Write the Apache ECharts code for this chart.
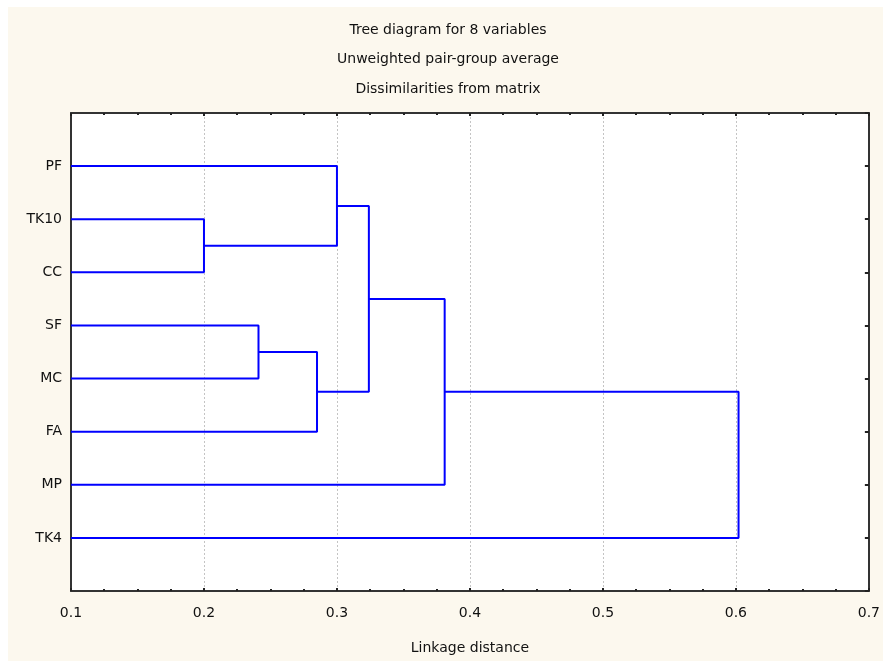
<!DOCTYPE html>
<html>
<head>
<meta charset="utf-8">
<style>html,body{margin:0;padding:0;background:#fff}#c{width:883px;height:661px}</style>
<script src="https://cdn.jsdelivr.net/npm/echarts@6/dist/echarts.min.js"></script>
</head>
<body>
<div id="c"></div>
<script>
// Leaves, top to bottom
const leaves = ['PF', 'TK10', 'CC', 'SF', 'MC', 'FA', 'MP', 'TK4'];
// Merge steps: [node A, node B, linkage distance]; leaves are 0..7, new clusters 8..14
const merges = [
  [1, 2, 0.200],
  [3, 4, 0.241],
  [9, 5, 0.285],
  [0, 8, 0.300],
  [11, 10, 0.324],
  [12, 6, 0.381],
  [13, 7, 0.602]
];
const titleLines = ['Tree diagram for 8 variables', 'Unweighted pair-group average', 'Dissimilarities from matrix'];
const xTicks = { min: 0.1, max: 0.7, step: 0.1 };
const xName = 'Linkage distance';

// Node positions derived from structure
const nodes = leaves.map((n, i) => ({ y: i + 1, h: xTicks.min }));
merges.forEach(m => {
  const a = nodes[m[0]], b = nodes[m[1]];
  nodes.push({ y: (a.y + b.y) / 2, h: m[2] });
});
const series = merges.map(m => {
  const a = nodes[m[0]], b = nodes[m[1]];
  return {
    type: 'line', symbol: 'none', silent: true, animation: false,
    lineStyle: { color: '#0000ff', width: 2 },
    data: [[a.h, a.y], [m[2], a.y], [m[2], b.y], [b.h, b.y]]
  };
});

const FONT = '"DejaVu Sans", Verdana, sans-serif';
const FS = 14;
const chart = echarts.init(document.getElementById('c'), null, { renderer: 'canvas' });
const axisLineStyle = { color: '#333', width: 2 };
const tickStyle = { color: '#222', width: 2 };
chart.setOption({
  backgroundColor: '#ffffff',
  animation: false,
  graphic: [
    { type: 'rect', z: -10, shape: { x: 8, y: 7, width: 875, height: 654 }, style: { fill: '#fcf8ee' } },
    ...titleLines.map((t, i) => ({
      type: 'text', x: 448, y: 30 + i * 29.5, z: 10,
      style: { text: t, font: FS + 'px ' + FONT, fill: '#111', align: 'center', verticalAlign: 'middle' }
    }))
  ],
  grid: { left: 71, right: 13, top: 113, bottom: 70, backgroundColor: '#fff', show: true, borderWidth: 0 },
  xAxis: [
    {
      type: 'value', min: xTicks.min, max: xTicks.max, interval: xTicks.step, position: 'bottom',
      name: xName, nameLocation: 'middle', nameGap: 50,
      nameTextStyle: { fontFamily: FONT, fontSize: FS, color: '#111' },
      axisLine: { show: true, onZero: false, lineStyle: axisLineStyle },
      axisTick: { show: true, inside: true, length: 3, lineStyle: tickStyle },
      minorTick: { show: true, splitNumber: 4, length: 2, lineStyle: tickStyle },
      axisLabel: { fontFamily: FONT, fontSize: FS, color: '#111', margin: 15,
        formatter: v => (Math.round(v * 10) / 10).toString() },
      splitLine: { show: true, lineStyle: { color: '#c4c4c4', type: [2, 2], width: 1 } }
    },
    {
      type: 'value', min: xTicks.min, max: xTicks.max, interval: xTicks.step, position: 'top',
      axisLine: { show: true, onZero: false, lineStyle: axisLineStyle },
      axisTick: { show: true, inside: true, length: 3, lineStyle: tickStyle },
      minorTick: { show: true, splitNumber: 4, length: 2, lineStyle: tickStyle },
      axisLabel: { show: false }, splitLine: { show: false }
    }
  ],
  yAxis: [
    {
      type: 'value', min: 0, max: leaves.length + 1, interval: 1, inverse: true, position: 'left',
      axisLine: { show: true, onZero: false, lineStyle: axisLineStyle },
      axisTick: { show: false },
      splitLine: { show: false },
      axisLabel: { fontFamily: FONT, fontSize: FS, color: '#111', margin: 9,
        formatter: v => leaves[v - 1] || '' }
    },
    {
      type: 'value', min: 0, max: leaves.length + 1, interval: 1, inverse: true, position: 'right',
      axisLine: { show: true, onZero: false, lineStyle: axisLineStyle },
      axisTick: { show: true, inside: true, length: 4, lineStyle: tickStyle },
      splitLine: { show: false },
      axisLabel: { show: false }
    }
  ],
  series: series
});
</script>
</body>
</html>
